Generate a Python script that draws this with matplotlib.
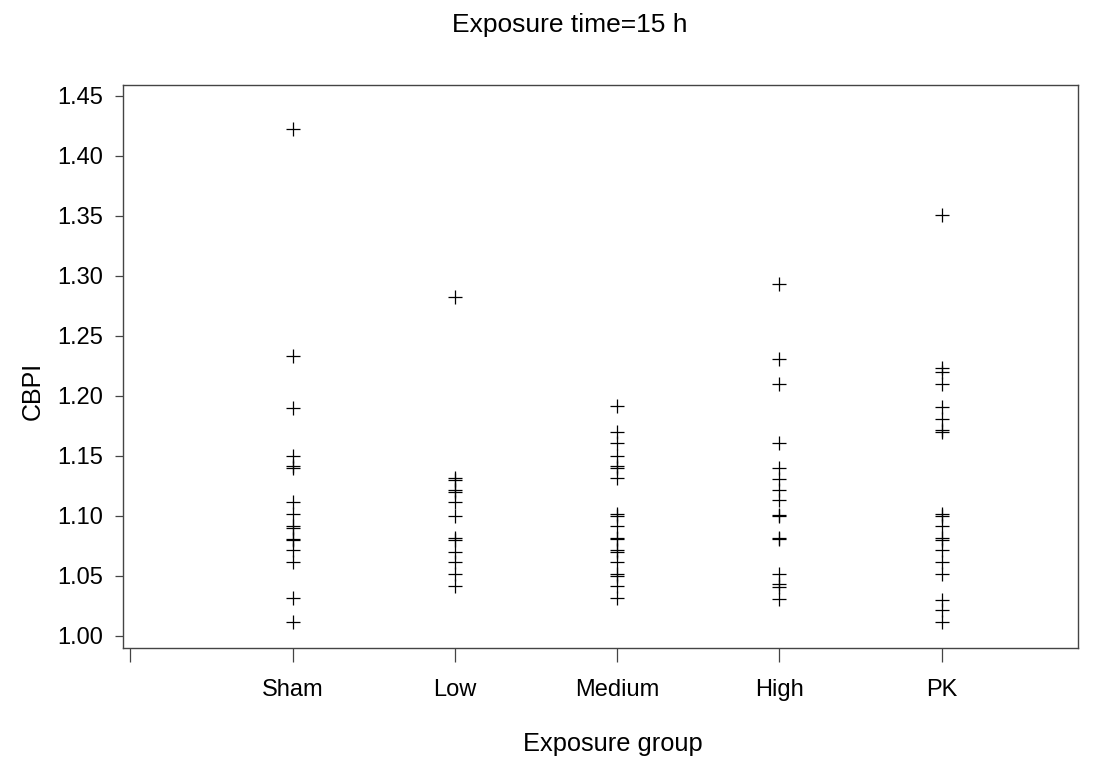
"""Exposure time=15 h: CBPI by exposure group (individual values)."""
import matplotlib

matplotlib.use("Agg")
import matplotlib.pyplot as plt

GROUPS = ["Sham", "Low", "Medium", "High", "PK"]

sham = [1.422, 1.233, 1.190, 1.150, 1.142, 1.140, 1.112, 1.102, 1.092, 1.090,
        1.081, 1.080, 1.072, 1.062, 1.032, 1.012]
low = [1.282, 1.132, 1.130, 1.122, 1.120, 1.112, 1.100, 1.082, 1.080, 1.070,
       1.062, 1.052, 1.042]
medium = [1.192, 1.170, 1.161, 1.150, 1.142, 1.140, 1.132, 1.102, 1.100, 1.092,
          1.082, 1.081, 1.072, 1.070, 1.062, 1.052, 1.050, 1.042, 1.032]
high = [1.293, 1.231, 1.210, 1.161, 1.140, 1.131, 1.122, 1.113, 1.101, 1.100,
        1.082, 1.081, 1.052, 1.043, 1.041, 1.031]
pk = [1.351, 1.223, 1.220, 1.210, 1.191, 1.181, 1.172, 1.170, 1.102, 1.100,
      1.092, 1.082, 1.080, 1.072, 1.062, 1.052, 1.030, 1.022, 1.012]

VALUES = [sham, low, medium, high, pk]


def main():
    plt.rcParams["font.family"] = ["Liberation Sans", "DejaVu Sans"]
    fig = plt.figure(figsize=(10.96, 7.58), dpi=100)
    ax = fig.add_axes([123 / 1096, 1 - 648 / 758, (1078 - 123) / 1096, (648 - 85) / 758])

    for i, vals in enumerate(VALUES, start=1):
        ax.plot([i] * len(vals), vals, linestyle="none", marker="+",
                markersize=10, markeredgewidth=0.9, color="black")

    ax.set_xlim(-0.045, 5.84)
    ax.set_ylim(0.99, 1.459)
    ax.set_xticks(range(0, 6))
    ax.set_xticklabels([""] + GROUPS)
    ax.set_yticks([1.00, 1.05, 1.10, 1.15, 1.20, 1.25, 1.30, 1.35, 1.40, 1.45])
    ax.set_yticklabels([f"{v:.2f}" for v in ax.get_yticks()])

    ax.tick_params(axis="x", length=10, width=0.9, pad=12, labelsize=17, color="#444444")
    ax.tick_params(axis="y", length=6, width=0.9, pad=8, labelsize=17, color="#444444")
    for sp in ax.spines.values():
        sp.set_color("#444444")
        sp.set_linewidth(1.0)

    fig.text(570 / 1096, 1 - 32 / 758, "Exposure time=15 h", ha="center", va="baseline", fontsize=19)
    fig.text(613 / 1096, 1 - 751 / 758, "Exposure group", ha="center", va="baseline", fontsize=18.3)
    fig.text(33 / 1096, 1 - 362 / 758, "CBPI", ha="right", va="center", rotation=90,
             rotation_mode="anchor", fontsize=18)

    fig.savefig("out.png", dpi=100)


if __name__ == "__main__":
    main()
